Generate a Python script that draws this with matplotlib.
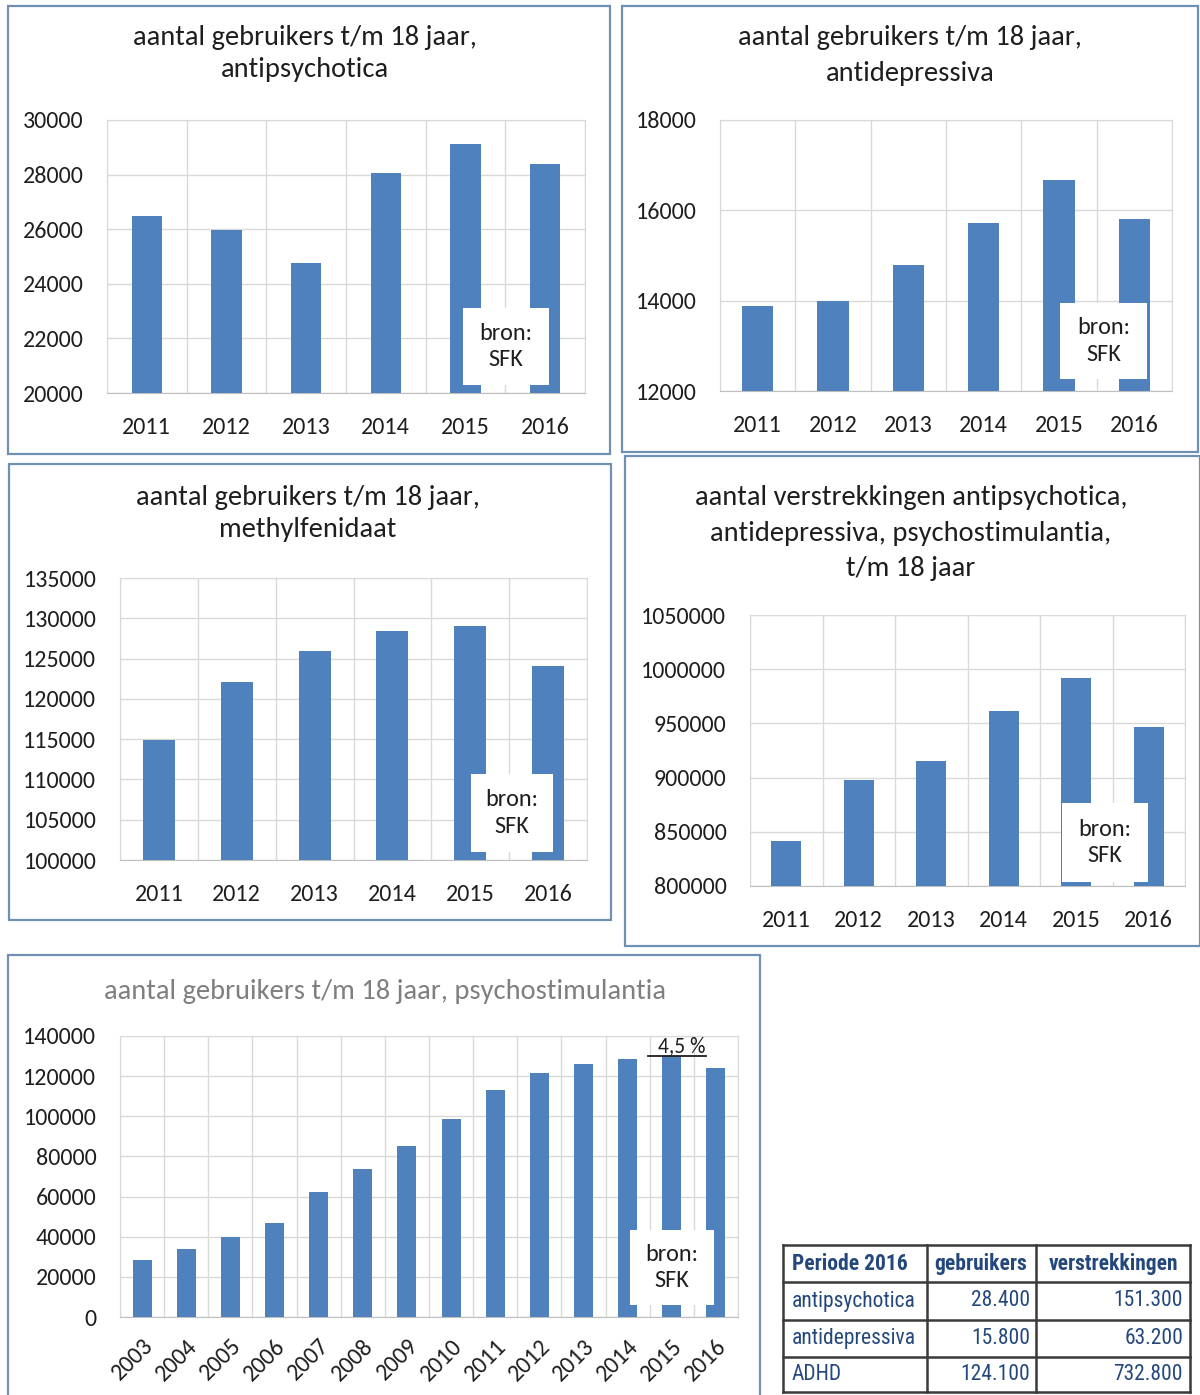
import numpy as np
import matplotlib
matplotlib.use('Agg')
import matplotlib.pyplot as plt
from matplotlib.patches import Rectangle
from matplotlib.lines import Line2D
from matplotlib.ticker import FuncFormatter

plt.rcParams['font.family'] = ['Carlito', 'DejaVu Sans']

# data
years6 = ['2011', '2012', '2013', '2014', '2015', '2016']
antipsychotica = [26480, 25970, 24760, 28050, 29120, 28400]
antidepressiva = [13880, 13990, 14790, 15720, 16680, 15800]
methylfenidaat = [114900, 122100, 126000, 128400, 129000, 124100]
verstrekkingen = [841500, 897800, 915300, 961400, 991900, 946700]

years14 = ['2003', '2004', '2005', '2006', '2007', '2008', '2009',
           '2010', '2011', '2012', '2013', '2014', '2015', '2016']
psychostimulantia = [28400, 34000, 40000, 47000, 62300, 73600, 85000,
                     98800, 113200, 121600, 126100, 128400, 129800, 124100]

table_header = ['Periode 2016', 'gebruikers', 'verstrekkingen']
table_rows = ['antipsychotica', 'antidepressiva', 'ADHD']
table_gebruikers = ['28.400', '15.800', '124.100']
table_verstrekkingen = ['151.300', '63.200', '732.800']

W, H = 1200, 1395
BAR = '#4f81bd'
GRID = '#d9d9d9'
BORDER = '#6f8fb3'
TXT = '#1e1e1e'

fig = plt.figure(figsize=(W / 100, H / 100), dpi=100)


def fx(x):
    return x / W


def fy(y):
    return 1 - y / H


def rect(x0, y0, x1, y1):
    return [fx(x0), fy(y1), (x1 - x0) / W, (y1 - y0) / H]


def border(x0, y0, x1, y1):
    fig.add_artist(Rectangle((fx(x0), fy(y1)), (x1 - x0) / W, (y1 - y0) / H,
                             transform=fig.transFigure, fill=False,
                             edgecolor=BORDER, lw=1.6))


def bron(x0, y0, x1, y1):
    fig.add_artist(Rectangle((fx(x0), fy(y1)), (x1 - x0) / W, (y1 - y0) / H,
                             transform=fig.transFigure, facecolor='white',
                             edgecolor='none', zorder=5))
    fig.text(fx((x0 + x1) / 2), fy((y0 + y1) / 2), 'bron:\nSFK', ha='center',
             va='center', fontsize=17.4, color=TXT, linespacing=1.3,
             zorder=6)


def barpanel(pos, cats, vals, ylim, step, width, rot=False):
    ax = fig.add_axes(rect(*pos))
    x = np.arange(len(cats))
    ax.bar(x, vals, width=width, color=BAR, zorder=3)
    ax.set_xlim(-0.5, len(cats) - 0.5)
    ax.set_ylim(*ylim)
    ax.set_yticks(np.arange(ylim[0], ylim[1] + 1, step))
    ax.yaxis.set_major_formatter(FuncFormatter(lambda v, p: '%d' % v))
    ax.set_xticks(x)
    ax.set_xticks(np.arange(-0.5, len(cats)), minor=True)
    ax.grid(True, axis='y', color=GRID, lw=1, zorder=0)
    ax.grid(True, axis='x', which='minor', color=GRID, lw=1, zorder=0)
    for s in ax.spines.values():
        s.set_color(GRID)
    ax.spines['bottom'].set_color('#bfbfbf')
    ax.tick_params(which='both', length=0, labelsize=17.3, colors=TXT)
    ax.tick_params(axis='y', pad=17)
    if rot:
        ax.set_xticklabels(cats, rotation=45, ha='right', rotation_mode='anchor')
        ax.tick_params(axis='x', pad=13)
    else:
        ax.set_xticklabels(cats)
        ax.tick_params(axis='x', pad=17)
    return ax


def title(cx, lines, color=TXT):
    for txt, y in lines:
        fig.text(fx(cx), fy(y), txt, ha='center', va='center', fontsize=20.5,
                 color=color)


# panel 1
border(8, 6, 610, 454)
barpanel((107, 120, 585, 393), years6, antipsychotica, (20000, 30000), 2000, 0.38)
title(305, [('aantal gebruikers t/m 18 jaar,', 37), ('antipsychotica', 70)])
bron(463, 308, 549, 385)

# panel 2
border(622, 6, 1198, 452)
barpanel((720, 120, 1172, 391), years6, antidepressiva, (12000, 18000), 2000, 0.42)
title(910, [('aantal gebruikers t/m 18 jaar,', 38), ('antidepressiva', 73)])
bron(1060, 303, 1147, 379)

# panel 3
border(9, 464, 611, 920)
barpanel((120, 578, 587, 860), years6, methylfenidaat, (100000, 135000), 5000, 0.41)
title(308, [('aantal gebruikers t/m 18 jaar,', 497), ('methylfenidaat', 530)])
bron(471, 774, 553, 852)

# panel 4
border(625, 456, 1200, 946)
barpanel((750, 615, 1185, 886), years6, verstrekkingen, (800000, 1050000), 50000, 0.41)
title(911, [('aantal verstrekkingen antipsychotica,', 498),
            ('antidepressiva, psychostimulantia,', 533),
            ('t/m 18 jaar', 569)])
bron(1062, 803, 1148, 882)

# panel 5
border(8, 955, 760, 1400)
ax5 = barpanel((120, 1036, 738, 1317), years14, psychostimulantia, (0, 140000), 20000,
               0.43, rot=True)
title(385, [('aantal gebruikers t/m 18 jaar, psychostimulantia', 992)], color='#7f7f7f')
bron(630, 1230, 714, 1305)
fig.text(fx(682), fy(1046), '4,5 %', ha='center', va='center', fontsize=15.5,
         color=TXT, zorder=6)
fig.add_artist(Line2D([fx(648), fx(706)], [fy(1056), fy(1056)],
                      transform=fig.transFigure, color=TXT, lw=1.3))

# table
tx = fig.add_axes(rect(783, 1245, 1190, 1393))
tx.set_xlim(783, 1190)
tx.set_ylim(1393, 1245)
tx.axis('off')
cols = [783, 927, 1036, 1190]
rows = [1245, 1282, 1320, 1357, 1392]
for c in cols:
    tx.plot([c, c], [rows[0], rows[-1]], color='#3a3a3a', lw=1.8, clip_on=False)
for r in rows:
    tx.plot([cols[0], cols[-1]], [r, r], color='#3a3a3a', lw=1.8, clip_on=False)
TCOL = '#24487e'
TFONT = ['Roboto Condensed', 'DejaVu Sans']
TS = 15.5
tx.text(792, 1264, table_header[0], ha='left', va='center', fontsize=TS,
        weight='bold', color=TCOL, family=TFONT)
tx.text(981, 1264, table_header[1], ha='center', va='center', fontsize=TS,
        weight='bold', color=TCOL, family=TFONT)
tx.text(1113, 1264, table_header[2], ha='center', va='center', fontsize=TS,
        weight='bold', color=TCOL, family=TFONT)
for i in range(len(table_rows)):
    yc = (rows[i + 1] + rows[i + 2]) / 2
    tx.text(792, yc, table_rows[i], ha='left', va='center', fontsize=TS,
            color=TCOL, family=TFONT)
    tx.text(1030, yc, table_gebruikers[i], ha='right', va='center', fontsize=TS,
            color=TCOL, family=TFONT)
    tx.text(1183, yc, table_verstrekkingen[i], ha='right', va='center', fontsize=TS,
            color=TCOL, family=TFONT)

fig.savefig('out.png', dpi=100)
